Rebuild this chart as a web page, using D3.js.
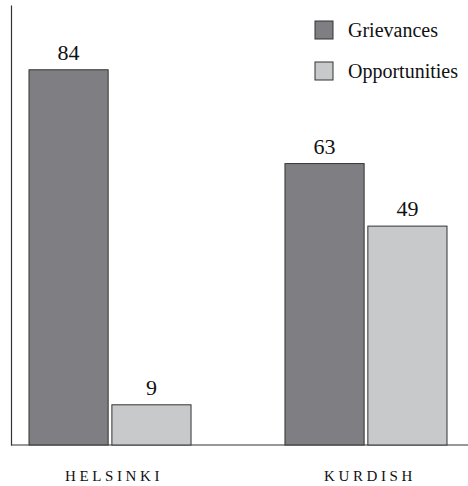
<!DOCTYPE html>
<html>
<head>
<meta charset="utf-8">
<script src="https://cdn.jsdelivr.net/npm/d3@7"></script>
<style>
  body { margin: 0; background: #fff; }
  svg text { font-family: "Liberation Serif", "DejaVu Serif", "Times New Roman", serif; fill: #111; }
</style>
</head>
<body>
<div id="chart"></div>
<script>
var categories = ["HELSINKI", "KURDISH"];
var seriesNames = ["Grievances", "Opportunities"];
var grievances = [84, 63];
var opportunities = [9, 49];

var w = 468, h = 486;
var colors = {Grievances: "#7f7f83", Opportunities: "#c8c9cb"};

var svg = d3.select("#chart")
	.append("svg")
	.attr("width", w)
	.attr("height", h);

var data = categories.map(function(c, i) {
	return {cat: c, values: [
		{name: "Grievances", v: grievances[i]},
		{name: "Opportunities", v: opportunities[i]}
	]};
});

var x0 = d3.scaleBand()
	.domain(categories)
	.range([29, 447])
	.paddingInner(0.367)
	.paddingOuter(0);

var x1 = d3.scaleBand()
	.domain(seriesNames)
	.range([0, x0.bandwidth()])
	.paddingInner(0.045);

var y = d3.scaleLinear()
	.domain([0, 98.5])
	.range([445, 5]);

// axes (just the lines)
svg.append("g")
	.attr("transform", "translate(11,0)")
	.call(d3.axisLeft(y).ticks(0).tickSizeOuter(0))
	.select(".domain").attr("stroke", "#333").attr("stroke-width", 1.2);

svg.append("line")
	.attr("x1", 11).attr("x2", w)
	.attr("y1", y(0)).attr("y2", y(0))
	.attr("stroke", "#333").attr("stroke-width", 1.2);

var groups = svg.selectAll(".group")
	.data(data)
	.enter()
	.append("g")
	.attr("class", "group")
	.attr("transform", function(d) {return "translate(" + x0(d.cat) + ",0)";});

groups.selectAll("rect")
	.data(function(d) {return d.values;})
	.enter()
	.append("rect")
	.attr("x", function(d) {return x1(d.name);})
	.attr("y", function(d) {return y(d.v);})
	.attr("width", x1.bandwidth())
	.attr("height", function(d) {return y(0) - y(d.v);})
	.attr("fill", function(d) {return colors[d.name];})
	.attr("stroke", "#333")
	.attr("stroke-width", 1);

// value labels
groups.selectAll(".val")
	.data(function(d) {return d.values;})
	.enter()
	.append("text")
	.attr("class", "val")
	.attr("x", function(d) {return x1(d.name) + x1.bandwidth() / 2;})
	.attr("y", function(d) {return y(d.v) - 10;})
	.attr("text-anchor", "middle")
	.attr("font-family", "Liberation Serif")
	.attr("font-size", "22px")
	.text(function(d) {return d.v;});

// category labels
svg.selectAll(".cat")
	.data(categories)
	.enter()
	.append("text")
	.attr("class", "cat")
	.attr("x", function(d) {return x0(d) + x0.bandwidth() / 2 + 4;})
	.attr("y", 481)
	.attr("text-anchor", "middle")
	.attr("font-family", "Liberation Serif")
	.attr("font-size", "15px")
	.attr("letter-spacing", "3.6px")
	.text(function(d) {return d;});

// legend
var legend = svg.selectAll(".legend")
	.data(seriesNames)
	.enter()
	.append("g")
	.attr("class", "legend")
	.attr("transform", function(d, i) {return "translate(315," + (21 + i * 41) + ")";});

legend.append("rect")
	.attr("width", 18)
	.attr("height", 18)
	.attr("fill", function(d) {return colors[d];})
	.attr("stroke", "#333")
	.attr("stroke-width", 1);

legend.append("text")
	.attr("x", 33)
	.attr("y", 16)
	.attr("font-family", "Liberation Serif")
	.attr("font-size", "20px")
	.text(function(d) {return d;});
</script>
</body>
</html>
